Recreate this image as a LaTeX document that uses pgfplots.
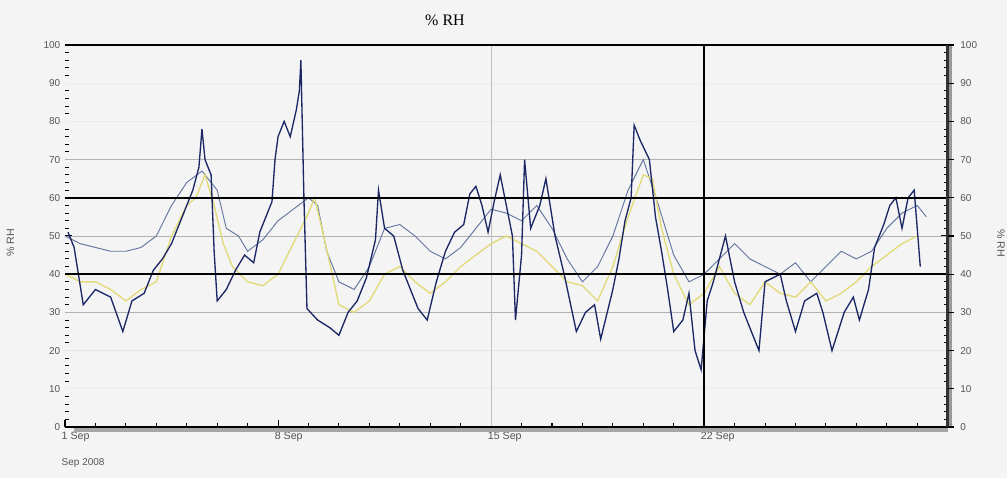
\documentclass[border=0pt]{standalone}
\usepackage{pgfplots}
\pgfplotsset{compat=1.18}
\usepackage{fontspec}
\setmainfont{Liberation Sans}
\newfontfamily\titlefont{Liberation Serif}

\definecolor{bg}{HTML}{F4F4F4}
\definecolor{navy}{HTML}{1C2766}
\definecolor{slate}{HTML}{6475A0}
\definecolor{pale}{HTML}{E2DA78}
\definecolor{ticktext}{HTML}{555555}

\begin{document}
\begin{tikzpicture}
% page = 1007 x 478 px at 0.75pt per px
\fill[bg] (-48.75pt,-38.25pt) rectangle (706.5pt,320.25pt);
\useasboundingbox (-48.75pt,-38.25pt) rectangle (706.5pt,320.25pt);
\begin{axis}[
    scale only axis,
    width=662pt, height=286.5pt,
    xmin=0, xmax=29,
    ymin=0, ymax=100,
    axis line style={draw=none},
    axis background/.style={fill=bg},
    ytick={0,10,...,100},
    minor y tick num=4,
    ytick pos=both,
    yticklabel pos=left,
    yticklabel style={font=\fontsize{7.5}{8}\selectfont, text=ticktext},
    xtick={0,7,14,21},
    xticklabels={1 Sep,8 Sep,15 Sep,22 Sep},
    minor xtick={1,2,...,28},
    xtick pos=bottom,
    xticklabel style={font=\fontsize{8}{9}\selectfont, text=ticktext, anchor=north west, xshift=-6pt},
    tick style={black, line width=0.8pt},
    major tick length=5pt, minor tick length=3pt,
    /pgf/number format/assume math mode=true,
    clip=false,
]
% grid lines
\draw[gray!15, line width=0.6pt] (axis cs:0,10) -- (axis cs:29,10);
\draw[gray!20, line width=0.6pt] (axis cs:0,20) -- (axis cs:29,20);
\draw[gray!15, line width=0.6pt] (axis cs:0,80) -- (axis cs:29,80);
\draw[gray!15, line width=0.6pt] (axis cs:0,90) -- (axis cs:29,90);
\draw[gray!60, line width=0.6pt] (axis cs:0,30) -- (axis cs:29,30);
\draw[gray!60, line width=0.6pt] (axis cs:0,50) -- (axis cs:29,50);
\draw[gray!60, line width=0.6pt] (axis cs:0,70) -- (axis cs:29,70);
\draw[gray!50, line width=0.6pt] (axis cs:14,0) -- (axis cs:14,100);

% slate series
\addplot[slate, line width=0.7pt] coordinates {
(0,50) (0.5,48) (1,47) (1.5,46) (2,46) (2.5,47) (3,50) (3.5,58) (4,64) (4.5,67)
(5,62) (5.3,52) (5.7,50) (6,46) (6.5,49) (7,54) (7.5,57) (8,60) (8.3,58) (8.6,46)
(9,38) (9.5,36) (10,42) (10.5,52) (11,53) (11.5,50) (12,46) (12.5,44) (13,47) (13.5,52)
(14,57) (14.5,56) (15,54) (15.5,58) (16,52) (16.5,44) (17,38) (17.5,42) (18,50) (18.5,62)
(19,70) (19.5,58) (20,45) (20.5,38) (21,40) (21.5,44) (22,48) (22.5,44) (23,42) (23.5,40)
(24,43) (24.5,38) (25,42) (25.5,46) (26,44) (26.5,46) (27,52) (27.5,56) (28,58) (28.3,55)
};
% pale yellow series
\addplot[pale, line width=1pt] coordinates {
(0,40) (0.5,38) (1,38) (1.5,36) (2,33) (2.5,36) (3,38) (3.5,50) (4,58) (4.3,60)
(4.6,66) (4.9,58) (5.2,48) (5.5,42) (6,38) (6.5,37) (7,40) (7.5,48) (8,56) (8.2,60)
(8.5,50) (9,32) (9.5,30) (10,33) (10.5,40) (11,42) (11.5,38) (12,35) (12.5,38) (13,42)
(13.5,45) (14,48) (14.5,50) (15,48) (15.5,46) (16,42) (16.5,38) (17,37) (17.5,33) (18,42)
(18.5,55) (19,66) (19.3,65) (19.6,52) (20,40) (20.5,32) (21,35) (21.5,42) (22,35) (22.5,32)
(23,38) (23.5,35) (24,34) (24.5,38) (25,33) (25.5,35) (26,38) (26.5,42) (27,45) (27.5,48)
(28,50)
};
% navy series
\addplot[navy, line width=1pt] coordinates {
(0.1,51) (0.3,47) (0.6,32) (1.0,36) (1.5,34) (1.9,25) (2.2,33) (2.6,35) (2.9,41) (3.2,44)
(3.5,48) (3.9,56) (4.2,62) (4.4,68) (4.5,78) (4.6,70) (4.8,66) (4.9,46) (5.0,33) (5.3,36)
(5.6,41) (5.9,45) (6.2,43) (6.4,51) (6.6,55) (6.8,59) (6.9,70) (7.0,76) (7.2,80) (7.4,76)
(7.6,83) (7.7,88) (7.75,96) (7.85,60) (7.95,31) (8.3,28) (8.7,26) (9.0,24) (9.3,30) (9.6,33)
(9.9,39) (10.2,49) (10.3,62) (10.5,52) (10.8,50) (11.1,41) (11.6,31) (11.9,28) (12.2,38) (12.5,46)
(12.8,51) (13.1,53) (13.3,61) (13.5,63) (13.7,58) (13.9,51) (14.1,59) (14.3,66) (14.5,58) (14.7,50)
(14.8,28) (15.0,45) (15.1,70) (15.3,52) (15.6,58) (15.8,65) (16.1,50) (16.4,40) (16.8,25) (17.1,30)
(17.4,32) (17.6,23) (18.0,36) (18.2,44) (18.4,54) (18.6,60) (18.7,79) (18.9,75) (19.2,70) (19.4,55)
(19.6,46) (19.8,36) (20.0,25) (20.3,28) (20.5,35) (20.7,20) (20.9,15) (21.1,33) (21.3,38) (21.7,50)
(22.0,38) (22.3,30) (22.8,20) (23.0,38) (23.5,40) (23.7,33) (24.0,25) (24.3,33) (24.7,35) (24.9,30)
(25.2,20) (25.6,30) (25.9,34) (26.1,28) (26.4,36) (26.6,47) (26.9,53) (27.1,58) (27.3,60) (27.5,52)
(27.7,60) (27.9,62) (28.0,52) (28.1,42)
};

% black reference lines
\draw[black, line width=1.3pt] (axis cs:0,40) -- (axis cs:29,40);
\draw[black, line width=1.3pt] (axis cs:0,60) -- (axis cs:29,60);
\draw[black, line width=1.1pt] (axis cs:21,0) -- (axis cs:21,100);
\draw[black, line width=0.8pt] (axis cs:0,100) -- (axis cs:29,100);
% frame with shadow
\draw[gray!70, line width=3pt] ([yshift=-2pt]axis cs:0.3,0) -- ([yshift=-2pt]axis cs:29,0);
\draw[gray!80, line width=3pt] ([xshift=2pt]axis cs:29,0) -- ([xshift=2pt]axis cs:29,100);
\draw[black, line width=1.4pt] (axis cs:0,0) -- (axis cs:29,0);
\draw[black!80, line width=2.4pt] (axis cs:29,0) -- (axis cs:29,100);
% right tick labels
\foreach \v in {0,10,...,100} {
  \edef\tmp{\noexpand\node[anchor=west, font=\noexpand\fontsize{7.5}{8}\noexpand\selectfont, text=ticktext] at ([xshift=6pt]axis cs:29,\v) {\v};}
  \tmp
}
\draw[black, line width=0.8pt] \foreach \v in {0,10,...,100} { ([xshift=0pt]axis cs:29,\v) -- ([xshift=5pt]axis cs:29,\v) };
\end{axis}
\node[font=\titlefont\fontsize{12}{14}\selectfont, anchor=base] at (285pt,301pt) {\% RH};
\node[rotate=90, font=\fontsize{8}{9}\selectfont, text=ticktext] at (-41pt,138pt) {\% RH};
\node[rotate=-90, font=\fontsize{8}{9}\selectfont, text=ticktext] at (702pt,138pt) {\% RH};
\node[anchor=north west, font=\fontsize{7.5}{8}\selectfont, text=ticktext] at (-6pt,-20pt) {Sep 2008};
\end{tikzpicture}
\end{document}
